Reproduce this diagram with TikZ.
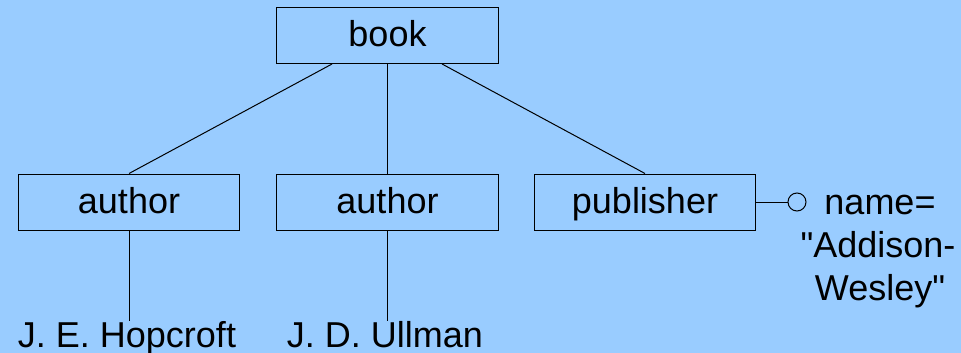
\documentclass[tikz,border=0pt]{standalone}
\usepackage{fontspec}
\setmainfont{Liberation Sans}
\definecolor{bg}{HTML}{99CCFF}
% straight double quote, bypassing the TeX ligature mapping
\newcommand\straightdq{\XeTeXglyph\XeTeXcharglyph"22\relax}
\begin{document}
\begin{tikzpicture}[x=0.75pt,y=-0.75pt,
  every node/.style={font=\fontsize{27pt}{32.4pt}\selectfont},
  elem/.style={draw=black, line width=0.75pt, fill=bg, minimum width=166pt,
    minimum height=42pt, inner sep=0pt, text height=22.5pt, text depth=6pt},
  leaf/.style={inner sep=0pt, anchor=base},
  edge/.style={line width=0.75pt, draw=black}]
  % canvas
  \fill[bg] (0,0) rectangle (961,353);
  \useasboundingbox (0,0) rectangle (961,353);

  % element boxes
  \node[elem] (book) at (387.5,35.5) {book};
  \node[elem] (a1) at (129,202) {author};
  \node[elem] (a2) at (387.5,202) {author};
  \node[elem] (pub) at (645,202) {publisher};

  % text leaves
  \node[leaf] (hop) at (127,347) {J. E. Hopcroft};
  \node[leaf] (ull) at (385,347) {J. D. Ullman};

  % attribute of publisher
  \node[draw=black, line width=0.75pt, circle, minimum size=13.5pt, inner sep=0pt] (att) at (797,202) {};
  \node[leaf] (v1) at (880,214) {name=};
  \node[leaf] (v2) at (878,257) {\straightdq Addison-};
  \node[leaf] (v3) at (880,300) {Wesley\straightdq};

  % tree edges
  \draw[edge] ([xshift=-41.6pt]book.south) -- (a1.north);
  \draw[edge] (book.south) -- (a2.north);
  \draw[edge] ([xshift=40.9pt]book.south) -- (pub.north);
  \draw[edge] (a1.south) -- (a1.south |- hop.north);
  \draw[edge] (a2.south) -- (a2.south |- ull.north);
  \draw[edge] (pub.east) -- (att.west);
\end{tikzpicture}
\end{document}
